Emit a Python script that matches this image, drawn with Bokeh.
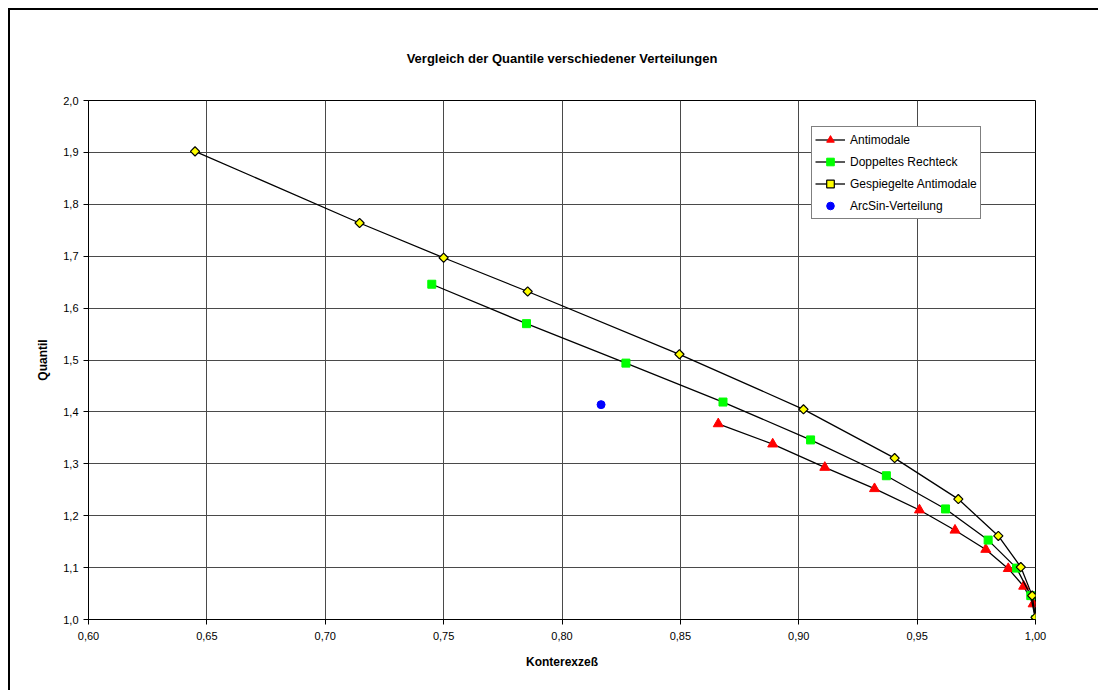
import math
from bokeh.plotting import figure
from bokeh.models import FixedTicker, Legend, LegendItem, Range1d
from bokeh.embed import file_html
from bokeh.resources import INLINE

# ---- data ----
anti_x = [0.866, 0.889, 0.911, 0.932, 0.951, 0.966, 0.979, 0.9885, 0.995, 0.999, 1.000]
anti_y = [1.377, 1.338, 1.293, 1.252, 1.211, 1.172, 1.135, 1.098, 1.064, 1.030, 1.000]

rect_x = [0.745, 0.785, 0.827, 0.868, 0.905, 0.937, 0.962, 0.980, 0.992, 0.998, 1.000]
rect_y = [1.646, 1.570, 1.494, 1.419, 1.346, 1.277, 1.213, 1.153, 1.099, 1.046, 1.000]

spieg_x = [0.645, 0.7145, 0.750, 0.7855, 0.8496, 0.902, 0.9405, 0.9674, 0.9843, 0.9938, 0.9986, 1.000]
spieg_y = [1.902, 1.764, 1.697, 1.632, 1.511, 1.405, 1.311, 1.232, 1.161, 1.101, 1.046, 1.004]

arcsin_x = [0.8165]
arcsin_y = [1.414]

x_ticks = [0.60, 0.65, 0.70, 0.75, 0.80, 0.85, 0.90, 0.95, 1.00]
y_ticks = [1.0, 1.1, 1.2, 1.3, 1.4, 1.5, 1.6, 1.7, 1.8, 1.9, 2.0]
x_tick_labels = ["0,60", "0,65", "0,70", "0,75", "0,80", "0,85", "0,90", "0,95", "1,00"]
y_tick_labels = ["1,0", "1,1", "1,2", "1,3", "1,4", "1,5", "1,6", "1,7", "1,8", "1,9", "2,0"]

FONT = "Liberation Sans"

p = figure(width=1090, height=682, output_backend="svg", toolbar_location=None,
           x_range=Range1d(0.6, 1.0), y_range=Range1d(1.0, 2.0),
           min_border_left=78, min_border_right=65, min_border_top=90, min_border_bottom=73,
           x_axis_label="Konterexzeß", y_axis_label="Quantil",
           title="Vergleich der Quantile verschiedener Verteilungen")
p.styles = {"border-left": "2px solid black", "border-top": "2px solid black",
            "margin-left": "8px", "margin-top": "8px"}

p.title.align = "center"
p.title.text_font = FONT
p.title.text_font_size = "13px"
p.title.text_font_style = "bold"
p.title.text_color = "black"
p.title.standoff = 70

p.outline_line_color = "black"
p.outline_line_width = 1
p.background_fill_color = "white"
p.border_fill_color = "white"

for ax, ticks, labels in ((p.xaxis[0], x_ticks, x_tick_labels), (p.yaxis[0], y_ticks, y_tick_labels)):
    ax.ticker = FixedTicker(ticks=ticks)
    ax.major_label_overrides = {t: l for t, l in zip(ticks, labels)}
    ax.minor_tick_line_color = None
    ax.major_tick_in = 0
    ax.major_tick_out = 5
    ax.major_tick_line_color = "black"
    ax.axis_line_color = "black"
    ax.major_label_text_font = FONT
    ax.major_label_text_font_size = "11px"
    ax.major_label_text_color = "black"
    ax.axis_label_text_font = FONT
    ax.axis_label_text_font_size = "12px"
    ax.axis_label_text_font_style = "bold"
    ax.axis_label_text_color = "black"

p.xaxis.major_label_standoff = 7
p.xaxis.axis_label_standoff = 12
p.yaxis.major_label_standoff = 5
p.yaxis.axis_label_standoff = 10

p.grid.grid_line_color = "#4a4a4a"
p.grid.grid_line_width = 1

# series
l1 = p.line(anti_x, anti_y, line_color="black", line_width=1.3)
m1 = p.scatter(anti_x, anti_y, marker="triangle", size=10, fill_color="#FF0000", line_color="#FF0000")
l2 = p.line(rect_x, rect_y, line_color="black", line_width=1.3)
m2 = p.scatter(rect_x, rect_y, marker="square", size=8, fill_color="#00FF00", line_color="#00FF00")
l3 = p.line(spieg_x, spieg_y, line_color="black", line_width=1.3)
m3 = p.scatter(spieg_x, spieg_y, marker="square", angle=math.pi / 4, size=6.5,
               fill_color="#FFFF00", line_color="black", line_width=1.2)
m4 = p.scatter(arcsin_x, arcsin_y, marker="circle", size=8, fill_color="#0000FF", line_color="#0000FF")

legend = Legend(items=[
    LegendItem(label="Antimodale", renderers=[l1, m1]),
    LegendItem(label="Doppeltes Rechteck", renderers=[l2, m2]),
    LegendItem(label="Gespiegelte Antimodale", renderers=[l3, m3]),
    LegendItem(label="ArcSin-Verteilung", renderers=[m4]),
], location=(723, 400))
legend.label_text_font = FONT
legend.label_text_font_size = "12px"
legend.label_text_color = "black"
legend.glyph_width = 30
legend.glyph_height = 19
legend.label_height = 19
legend.spacing = 3
legend.padding = 3
legend.margin = 0
legend.label_standoff = 5
legend.border_line_color = "black"
legend.border_line_width = 1
legend.background_fill_color = "white"
legend.background_fill_alpha = 1
p.add_layout(legend, "center")

open("out.html", "w").write(file_html(p, INLINE))
